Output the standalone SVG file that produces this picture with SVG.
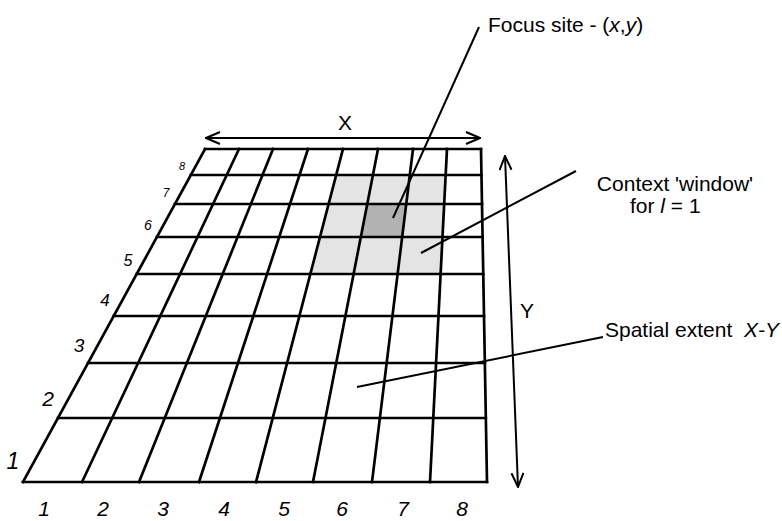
<svg xmlns="http://www.w3.org/2000/svg" width="782" height="521" viewBox="0 0 782 521">
<style>
.g{stroke:#000;stroke-width:2.7;fill:none;stroke-linecap:square}
.ln{stroke:#000;stroke-width:2;fill:none}
.t{font-family:"Liberation Sans",Arial,sans-serif;font-size:21px;fill:#000}
.n{font-family:"Liberation Sans",Arial,sans-serif;font-style:italic;fill:#000;text-anchor:middle}
</style>
<defs>
<marker id="ah" viewBox="0 0 16 14" refX="15" refY="7" markerWidth="16" markerHeight="14" markerUnits="userSpaceOnUse" orient="auto-start-reverse">
<path d="M1,1 L15,7 L1,13" fill="none" stroke="#000" stroke-width="2"/>
</marker>
</defs>
<rect width="782" height="521" fill="#fff"/>
<g id="context-window">
<polygon points="336.2,175 445.7,175 440.6,274 310.3,274" fill="#e4e4e4"/>
</g>
<g id="focus-site">
<polygon points="367.3,204 406.2,204 402.2,237 360.8,237" fill="#b2b2b2"/>
</g>
<g id="grid">
<line class="g" x1="205" y1="149" x2="481" y2="149"/>
<line class="g" x1="190.8" y1="175" x2="481.5" y2="175"/>
<line class="g" x1="174.9" y1="204" x2="482" y2="204"/>
<line class="g" x1="156.9" y1="237" x2="482.6" y2="237"/>
<line class="g" x1="136.7" y1="274" x2="483.3" y2="274"/>
<line class="g" x1="113.7" y1="316" x2="484" y2="316"/>
<line class="g" x1="88" y1="363" x2="484.9" y2="363"/>
<line class="g" x1="58" y1="418" x2="485.8" y2="418"/>
<line class="g" x1="23" y1="482" x2="487" y2="482"/>
<line class="g" x1="205" y1="149" x2="23" y2="482"/>
<line class="g" x1="239" y1="149" x2="82" y2="482"/>
<line class="g" x1="273" y1="149" x2="139" y2="482"/>
<line class="g" x1="308" y1="149" x2="199" y2="482"/>
<line class="g" x1="343" y1="149" x2="256" y2="482"/>
<line class="g" x1="378" y1="149" x2="313" y2="482"/>
<line class="g" x1="413" y1="149" x2="372" y2="482"/>
<line class="g" x1="447" y1="149" x2="430" y2="482"/>
<line class="g" x1="481" y1="149" x2="487" y2="482"/>
</g>
<g id="row-labels">
<text class="n" x="182" y="170" font-size="11">8</text>
<text class="n" x="166" y="197" font-size="12">7</text>
<text class="n" x="148" y="230" font-size="14">6</text>
<text class="n" x="128" y="266" font-size="16">5</text>
<text class="n" x="105" y="306" font-size="17">4</text>
<text class="n" x="79" y="352" font-size="19">3</text>
<text class="n" x="48" y="406" font-size="21">2</text>
<text class="n" x="13" y="469" font-size="23">1</text>
</g>
<g id="col-labels">
<text class="n" x="44" y="516" font-size="21">1</text>
<text class="n" x="103" y="516" font-size="21">2</text>
<text class="n" x="163" y="516" font-size="21">3</text>
<text class="n" x="224" y="516" font-size="21">4</text>
<text class="n" x="284" y="516" font-size="21">5</text>
<text class="n" x="342" y="516" font-size="21">6</text>
<text class="n" x="403" y="516" font-size="21">7</text>
<text class="n" x="462" y="516" font-size="21">8</text>
</g>
<g id="x-axis">
<line class="ln" x1="206" y1="138" x2="480" y2="138" marker-start="url(#ah)" marker-end="url(#ah)"/>
<text class="t" x="345" y="130" text-anchor="middle" font-size="19">X</text>
</g>
<g id="y-axis">
<line class="ln" x1="505" y1="156" x2="518" y2="487" marker-start="url(#ah)" marker-end="url(#ah)"/>
<text class="t" x="520" y="318" font-size="19">Y</text>
</g>
<g id="connectors">
<line class="ln" x1="479" y1="27" x2="393" y2="218"/>
<line class="ln" x1="576" y1="171" x2="421" y2="253"/>
<line class="ln" x1="603" y1="337" x2="357" y2="387"/>
</g>
<g id="label-focus">
<text class="t" x="488" y="32">Focus site - (<tspan font-style="italic">x</tspan>,<tspan font-style="italic">y</tspan>)</text>
</g>
<g id="label-context">
<text class="t" x="675" y="191" text-anchor="middle" font-size="20">Context 'window'</text>
<text class="t" x="630" y="213" font-size="20">for <tspan font-style="italic">l</tspan> = 1</text>
</g>
<g id="label-spatial">
<text class="t" x="605" y="337">Spatial extent&#160; <tspan font-style="italic">X-Y</tspan></text>
</g>
</svg>
